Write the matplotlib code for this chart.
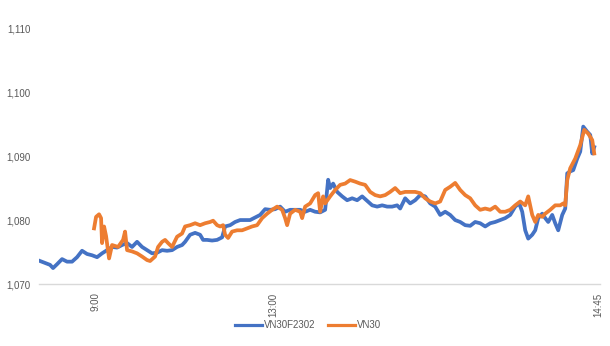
import matplotlib.pyplot as plt

# VN30F2302 (hợp đồng tương lai) - số thứ tự tick và giá
n_f = [1, 6, 11, 14, 18, 23, 28, 33, 38, 43, 48, 53, 58, 63, 68, 73, 78, 83, 88, 93,
       98, 103, 108, 113, 118, 123, 128, 133, 138, 143, 146, 151, 156, 161, 164, 168, 173, 178, 183, 186,
       191, 196, 201, 206, 211, 216, 221, 226, 231, 236, 241, 246, 251, 256, 261, 266, 271, 276, 281, 286,
       289, 291, 294, 298, 303, 308, 313, 318, 323, 328, 333, 338, 343, 348, 353, 358, 361, 366, 371, 376,
       381, 386, 391, 396, 401, 406, 411, 416, 421, 426, 431, 436, 441, 446, 451, 456, 461, 466, 471, 476,
       480, 483, 486, 489, 493, 496, 499, 503, 506, 509, 513, 516, 519, 523, 526, 528, 531, 534, 538, 541,
       544, 548, 551, 553, 555]
vn30f = [1073.6, 1073.3, 1073.0, 1072.5, 1073.1, 1073.9, 1073.5, 1073.5, 1074.2, 1075.2,
         1074.7, 1074.5, 1074.2, 1074.8, 1075.3, 1075.8, 1075.7, 1076.1, 1076.4, 1075.8,
         1076.6, 1075.8, 1075.3, 1074.8, 1074.9, 1075.3, 1075.2, 1075.3, 1075.8, 1076.1,
         1076.6, 1077.7, 1078.0, 1077.7, 1076.9, 1076.9, 1076.8, 1076.9, 1077.3, 1079.0,
         1079.2, 1079.7, 1080.0, 1080.0, 1080.0, 1080.4, 1080.8, 1081.7, 1081.6, 1081.7,
         1082.1, 1081.3, 1081.6, 1081.6, 1081.6, 1081.3, 1081.6, 1081.3, 1081.2, 1081.6,
         1086.3, 1085.0, 1085.7, 1084.4, 1083.7, 1083.1, 1083.4, 1083.1, 1083.7, 1083.0,
         1082.3, 1082.1, 1082.3, 1082.1, 1082.1, 1082.3, 1081.8, 1083.4, 1082.6, 1083.1,
         1083.9, 1083.7, 1082.6, 1082.1, 1080.8, 1081.3, 1080.8, 1080.0, 1079.7, 1079.2,
         1079.1, 1079.7, 1079.5, 1079.0, 1079.5, 1079.7, 1080.0, 1080.3, 1080.8, 1082.1,
         1082.6, 1081.3, 1078.4, 1077.1, 1077.7, 1078.4, 1080.3, 1081.0, 1080.3, 1079.7,
         1080.8, 1079.5, 1078.4, 1080.8, 1081.8, 1087.3, 1087.6, 1087.8, 1089.6, 1090.7,
         1094.6, 1093.8, 1093.3, 1090.4, 1091.4]

# VN30 (chỉ số)
n_i = [55, 57, 60, 62, 63, 65, 67, 70, 73, 79, 84, 86, 88, 93, 98, 103, 108, 111, 116, 119,
       123, 126, 129, 133, 138, 143, 146, 151, 156, 161, 166, 171, 174, 178, 181, 184, 186, 189, 193, 198,
       203, 208, 213, 218, 223, 228, 233, 238, 243, 246, 248, 251, 256, 261, 263, 266, 271, 276, 279, 281,
       284, 286, 291, 296, 301, 306, 311, 316, 321, 326, 331, 336, 341, 346, 351, 356, 361, 366, 371, 376,
       381, 386, 391, 396, 401, 406, 411, 416, 421, 426, 431, 436, 441, 446, 451, 456, 461, 466, 471, 476,
       481, 486, 489, 493, 496, 499, 503, 506, 511, 516, 521, 524, 526, 528, 531, 536, 541, 545, 549, 553,
       555]
vn30 = [1078.7, 1080.5, 1080.9, 1080.3, 1076.4, 1079.0, 1077.5, 1074.0, 1076.1, 1075.8,
        1076.9, 1078.2, 1075.3, 1075.1, 1074.8, 1074.3, 1073.75, 1073.6, 1074.3, 1075.8,
        1076.6, 1076.9, 1076.4, 1075.8, 1077.4, 1077.9, 1079.0, 1079.2, 1079.5, 1079.2,
        1079.5, 1079.7, 1079.9, 1079.2, 1079.0, 1079.2, 1077.7, 1077.2, 1078.2, 1078.4,
        1078.4, 1078.7, 1079.0, 1079.2, 1080.3, 1081.0, 1081.6, 1082.1, 1081.6, 1080.3,
        1079.2, 1081.0, 1081.6, 1081.3, 1080.3, 1082.1, 1082.6, 1083.9, 1084.2, 1081.3,
        1083.7, 1082.6, 1083.7, 1084.7, 1085.5, 1085.7, 1086.25, 1086.0, 1085.7, 1085.5,
        1084.4, 1083.9, 1083.7, 1083.9, 1084.4, 1085.0, 1084.2, 1084.4, 1084.4, 1084.4,
        1084.2, 1083.4, 1082.9, 1082.6, 1082.9, 1084.7, 1085.2, 1085.8, 1084.7, 1083.9,
        1083.4, 1082.3, 1081.6, 1081.8, 1081.6, 1082.1, 1081.3, 1081.3, 1081.6, 1082.3,
        1082.9, 1082.3, 1083.7, 1080.8, 1079.7, 1080.8, 1080.5, 1081.0, 1081.6, 1082.3,
        1082.3, 1082.6, 1082.3, 1086.25, 1088.1, 1089.6, 1091.7, 1094.1, 1093.5, 1092.5,
        1090.4]

# nhãn thời gian trên trục x
tick_pos = [56, 234, 559]
tick_lbl = ["9:00", "13:00", "14:45"]

plt.rcParams['font.family'] = ['Liberation Sans', 'DejaVu Sans']
txt = "#595959"

fig = plt.figure(figsize=(6.1, 3.46), dpi=100)
ax = fig.add_axes([0.064, 0.179, 0.92, 0.74])

ax.plot(n_f, vn30f, color="#4472C4", lw=2.7, label="VN30F2302", solid_joinstyle="round")
ax.plot(n_i, vn30, color="#ED7D31", lw=2.7, label="VN30", solid_joinstyle="round")

ax.set_xlim(0, 561)
ax.set_ylim(1070, 1110)
ax.set_yticks([1070, 1080, 1090, 1100, 1110])
ax.set_yticklabels(["1,070", "1,080", "1,090", "1,100", "1,110"])
ax.set_xticks(tick_pos)
ax.set_xticklabels(tick_lbl, rotation=90, va="top")

for s in ["top", "right", "left"]:
    ax.spines[s].set_visible(False)
ax.spines["bottom"].set_color("#D9D9D9")
ax.spines["bottom"].set_linewidth(1)
ax.tick_params(axis="both", length=0, labelsize=7, colors=txt)
ax.tick_params(axis="y", pad=6)
ax.tick_params(axis="x", pad=6)

leg = fig.legend(loc="center", bbox_to_anchor=(0.505, 0.06), ncol=2, frameon=False,
                 fontsize=7, labelcolor=txt, handlelength=2.8, handletextpad=0.2,
                 columnspacing=1.2)
for h in leg.get_lines():
    h.set_linewidth(2.3)

fig.savefig("out.png", dpi=100)
